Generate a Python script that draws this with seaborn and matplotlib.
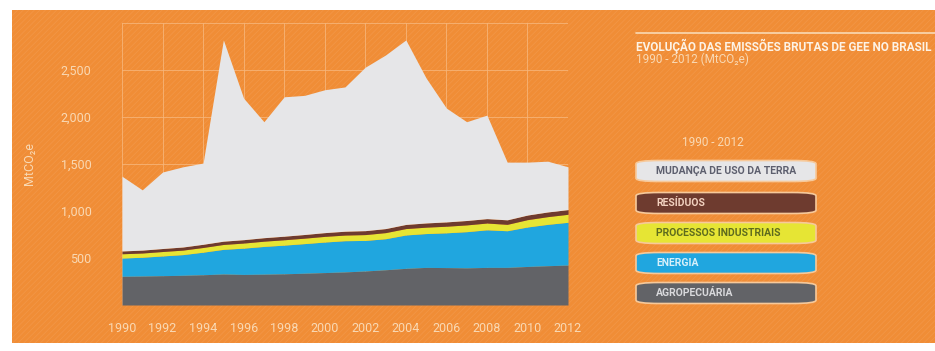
import matplotlib
matplotlib.use("Agg")
import matplotlib.pyplot as plt
from matplotlib.patches import Rectangle, FancyBboxPatch
from matplotlib import font_manager
import seaborn as sns
import numpy as np

years = list(range(1990, 2013))
agropecuaria = [305, 308, 312, 316, 322, 330, 325, 328, 332, 338, 345, 352, 362,
                375, 390, 400, 398, 395, 400, 400, 410, 418, 425]
energia = [195, 200, 210, 220, 240, 262, 280, 295, 305, 315, 325, 332, 325,
           330, 355, 360, 370, 385, 400, 390, 420, 440, 455]
processos = [45, 45, 47, 48, 50, 52, 54, 56, 57, 58, 60, 60, 62,
             65, 68, 68, 70, 72, 72, 68, 78, 82, 85]
residuos = [30, 31, 32, 33, 34, 35, 36, 37, 38, 39, 40, 41, 42,
            43, 44, 45, 46, 47, 47, 48, 49, 50, 50]
mudanca_uso_terra = [795, 641, 814, 853, 864, 2141, 1505, 1234, 1483, 1480, 1520, 1535, 1739,
                     1847, 1963, 1542, 1211, 1051, 1101, 614, 563, 540, 455]

series_names = ["AGROPECUÁRIA", "ENERGIA", "PROCESSOS INDUSTRIAIS", "RESÍDUOS", "MUDANÇA DE USO DA TERRA"]
colors = ["#626367", "#20A6DF", "#E6E534", "#6E3B2F", "#E6E6E8"]
legend_order = ["MUDANÇA DE USO DA TERRA", "RESÍDUOS", "PROCESSOS INDUSTRIAIS", "ENERGIA", "AGROPECUÁRIA"]
legend_text_colors = {"MUDANÇA DE USO DA TERRA": "#5D5F6E", "RESÍDUOS": "#F3D2C0",
                      "PROCESSOS INDUSTRIAIS": "#5E6B1E", "ENERGIA": "#D8F0FA",
                      "AGROPECUÁRIA": "#D9D9DC"}
yticks = [500, 1000, 1500, 2000, 2500]
ytick_labels = ["500", "1,000", "1,500", "2,000", "2,500"]
xticks = list(range(1990, 2013, 2))

title = "EVOLUÇÃO DAS EMISSÕES BRUTAS DE GEE NO BRASIL"
subtitle = "1990 - 2012 (MtCO₂e)"
legend_header = "1990 - 2012"
ylabel = "MtCO₂e"

sns.set_theme(style="white")
installed = {f.name for f in font_manager.fontManager.ttflist}
main_font = 'Liberation Sans Narrow' if 'Liberation Sans Narrow' in installed else 'Roboto'
plt.rcParams['font.family'] = [main_font, 'DejaVu Sans']
plt.rcParams['hatch.linewidth'] = 0.6

ORANGE = "#F08D36"
CREAM = "#F9D9B4"

fig = plt.figure(figsize=(9.35, 3.51), dpi=100, facecolor="white")
bg = Rectangle((12/935, 8/351), 1 - 12/935, 1 - 18/351, transform=fig.transFigure,
               facecolor=ORANGE, edgecolor="none", zorder=-10)
fig.patches.append(bg)
bg_hatch = Rectangle((12/935, 8/351), 1 - 12/935, 1 - 18/351, transform=fig.transFigure,
                     facecolor="none", edgecolor="#F29646", hatch="//////", linewidth=0, zorder=-9)
fig.patches.append(bg_hatch)

ax = fig.add_axes([122/935, 1 - 305/351, (568-122)/935, (305-23)/351])
ax.set_zorder(2)
ax.set_facecolor("none")
data = [agropecuaria, energia, processos, residuos, mudanca_uso_terra]
ax.stackplot(years, *data, colors=colors, linewidth=0, zorder=3)
ax.set_xlim(1990, 2012)
ax.set_ylim(0, 3000)
ax.set_yticks(yticks)
ax.set_yticklabels(ytick_labels)
ax.set_xticks(xticks)
ax.set_xticklabels([str(y) for y in xticks])
ax.tick_params(axis='y', colors=CREAM, labelsize=9, length=0, pad=22)
ax.tick_params(axis='x', colors=CREAM, labelsize=9, length=0, pad=12)
ax.grid(True, color="#F7B77C", linewidth=0.7, alpha=0.8, zorder=0)
ax.set_yticks([3000], minor=True)
ax.grid(True, which='minor', axis='y', color="#F7B77C", linewidth=0.7, alpha=0.8)
ax.tick_params(which='minor', length=0)
sns.despine(ax=ax, left=True, bottom=True)
ax.set_ylabel(ylabel, color=CREAM, fontsize=9, labelpad=18)

# Title block
fig.add_artist(plt.Line2D([636/935, 1.0], [1 - 33/351, 1 - 33/351], transform=fig.transFigure,
                          color=CREAM, linewidth=1.2))
fig.text(636/935, 1 - 46/351, title, color="#FDF3E6", fontsize=8.5, fontweight="bold",
         va="center", ha="left")
fig.text(636/935, 1 - 59/351, subtitle, color=CREAM, fontsize=8.5, va="center", ha="left")
fig.text(713/935, 1 - 143/351, legend_header, color=CREAM, fontsize=8.5, va="center", ha="center")

# Legend pills
box_x0, box_x1 = 636/935, 816/935
box_h = 21/351
centers = [171, 203, 233, 263, 293]
col_map = dict(zip(series_names, colors))
for name, cy in zip(legend_order, centers):
    yc = 1 - cy/351
    p = FancyBboxPatch((box_x0, yc - box_h/2), box_x1 - box_x0, box_h,
                       boxstyle="round,pad=0,rounding_size=0.025",
                       mutation_aspect=351/935,
                       transform=fig.transFigure, facecolor=col_map[name],
                       edgecolor="#F7C99A", linewidth=1.2)
    fig.patches.append(p)
    fig.text(box_x0 + 20/935, yc, name, color=legend_text_colors[name], fontsize=7.5,
             fontweight="bold", va="center", ha="left")

fig.savefig("out.png", dpi=100, facecolor="white")
